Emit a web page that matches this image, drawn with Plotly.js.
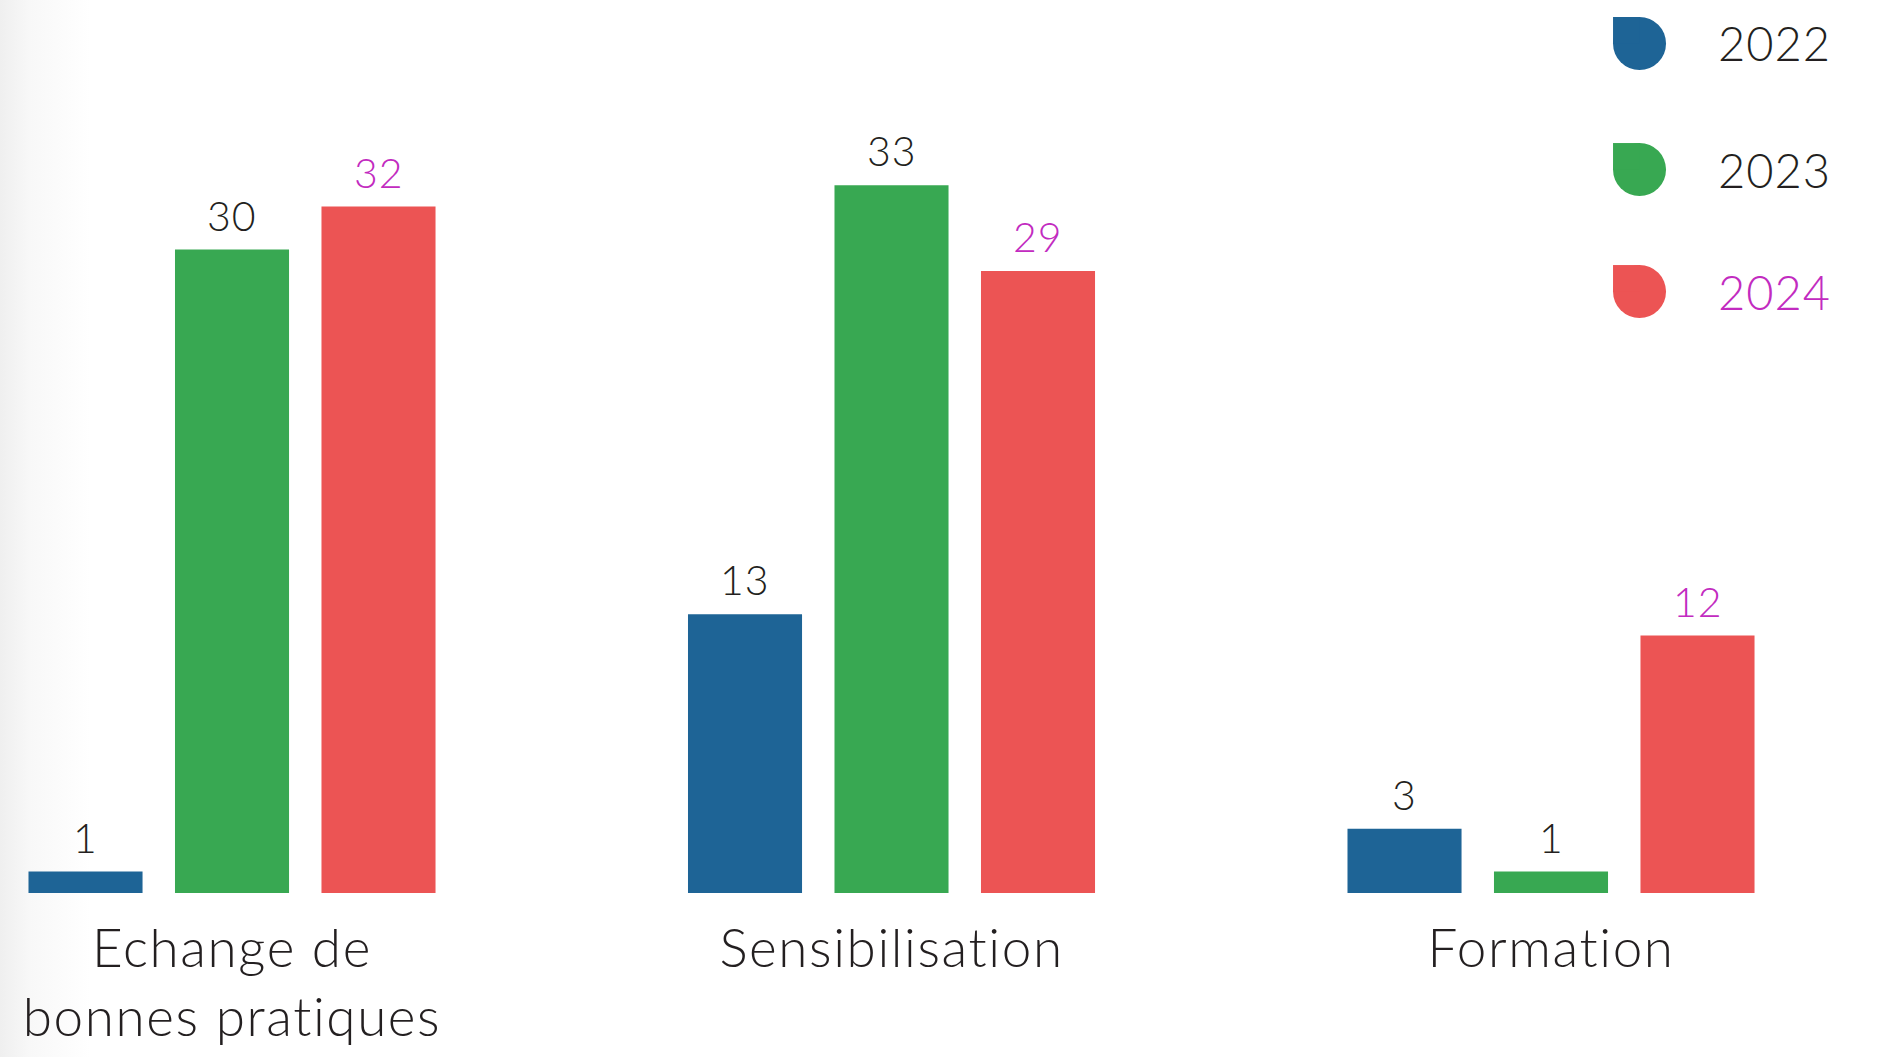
<!DOCTYPE html>
<html>
<head>
<meta charset="utf-8">
<script src="https://cdn.plot.ly/plotly-3.0.1.min.js"></script>
<style>
  html, body { margin: 0; padding: 0; }
  body { width: 1883px; height: 1057px; overflow: hidden;
         background: linear-gradient(to right, #efefef 0px, #f8f8f8 30px, #ffffff 90px); }
  #chart { width: 1883px; height: 1057px; }
  .xtick text { letter-spacing: 1.6px; }
  .annotation-text { letter-spacing: 1px; }
</style>
</head>
<body>
<div id="chart"></div>
<script>
// ---- data ----
const categories = ["Echange de<br>bonnes pratiques", "Sensibilisation", "Formation"];
const seriesNames = ["2022", "2023", "2024"];
const values2022 = [1, 13, 3];
const values2023 = [30, 33, 1];
const values2024 = [32, 29, 12];

// ---- styles ----
const barColors = ["#1e6496", "#38a852", "#ec5454"];
const labelColors = ["#231f20", "#231f20", "#c22bc0"];
const FONT = "Lato, 'Open Sans', sans-serif";

const allValues = [values2022, values2023, values2024];

const traces = allValues.map((vals, i) => ({
  type: "bar",
  name: seriesNames[i],
  x: categories,
  y: vals,
  marker: { color: barColors[i], line: { width: 0 } },
  hoverinfo: "x+y+name",
  showlegend: false
}));

// value labels above each bar (anchored to the data value)
const barPitchPx = 146.5;
const annotations = [];
allValues.forEach((vals, i) => {
  vals.forEach((v, j) => {
    annotations.push({
      x: categories[j], y: v, xref: "x", yref: "y",
      text: String(v), showarrow: false,
      xanchor: "center", yanchor: "bottom",
      xshift: (i - 1) * barPitchPx, yshift: 8,
      font: { family: FONT, size: 41, color: labelColors[i], weight: 300 }
    });
  });
});

// custom legend: drop-shaped markers + text
const legendX = 0.8707, legendTextX = 0.9113;
const legendY = [0.9901, 0.8432, 0.7010];
const shapes = [];
seriesNames.forEach((name, i) => {
  const common = {
    xref: "paper", yref: "paper", xsizemode: "pixel", ysizemode: "pixel",
    xanchor: legendX, yanchor: legendY[i],
    fillcolor: barColors[i], line: { width: 0 }, layer: "above"
  };
  shapes.push(Object.assign({ type: "circle", x0: -26.5, x1: 26.5, y0: -26.5, y1: 26.5 }, common));
  shapes.push(Object.assign({ type: "rect", x0: -26.5, x1: 0, y0: 0, y1: 26.5 }, common));
  annotations.push({
    x: legendTextX, y: legendY[i], xref: "paper", yref: "paper",
    text: name, showarrow: false, xanchor: "left", yanchor: "middle",
    font: { family: FONT, size: 47, color: labelColors[i], weight: 300 }
  });
});

const layout = {
  width: 1883, height: 1057,
  margin: { l: 0, r: 0, t: 35, b: 164, pad: 0 },
  paper_bgcolor: "rgba(0,0,0,0)",
  plot_bgcolor: "rgba(0,0,0,0)",
  barmode: "group",
  bargap: 0.3336,
  bargroupgap: 0.2215,
  showlegend: false,
  font: { family: FONT, color: "#231f20" },
  xaxis: {
    type: "category",
    range: [-0.3518, 2.5034],
    showgrid: false, zeroline: false, showline: false, ticks: "",
    tickfont: { family: FONT, size: 53, color: "#231f20", weight: 300 },
    ticklabelstandoff: 20,
    fixedrange: true
  },
  yaxis: {
    range: [0, 40],
    showgrid: false, zeroline: false, showline: false, showticklabels: false, ticks: "",
    fixedrange: true
  },
  annotations: annotations,
  shapes: shapes
};

Plotly.newPlot("chart", traces, layout, { displayModeBar: false, staticPlot: true });
</script>
</body>
</html>
